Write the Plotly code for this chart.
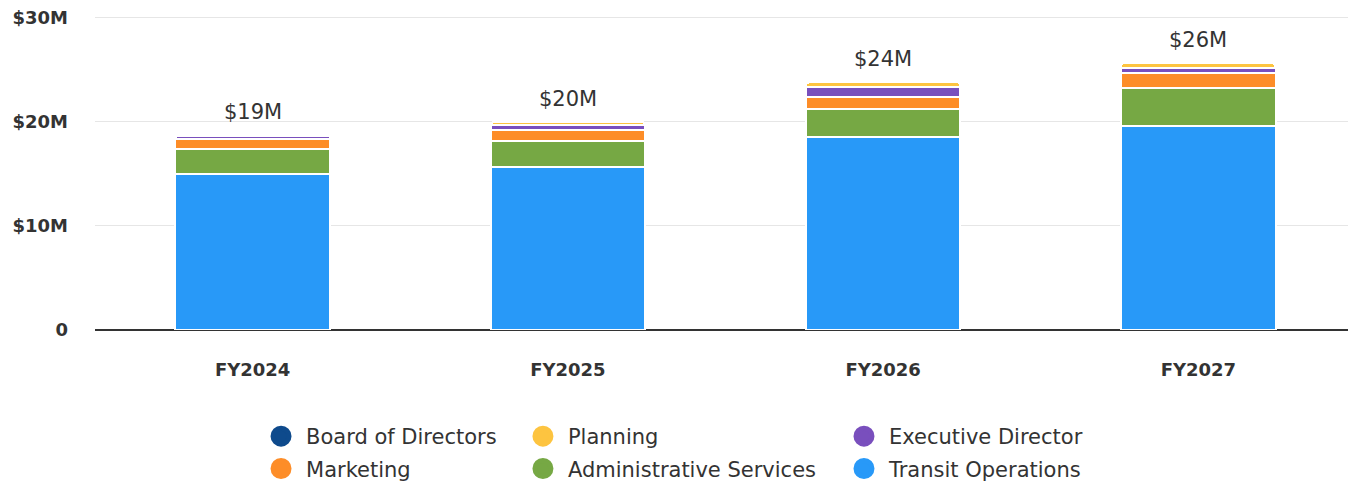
import plotly.graph_objects as go

years = ["FY2024", "FY2025", "FY2026", "FY2027"]
transit = [15.0, 15.65, 18.55, 19.6]
admin = [2.45, 2.5, 2.7, 3.65]
marketing = [0.87, 1.05, 1.2, 1.5]
executive = [0.38, 0.5, 0.95, 0.4]
planning = [0.05, 0.3, 0.4, 0.5]
board = [0.03, 0.03, 0.03, 0.03]
total_labels = ["$19M", "$20M", "$24M", "$26M"]
y_tickvals = [0, 10, 20, 30]
y_ticktext = ["0", "$10M", "$20M", "$30M"]

FONT = "DejaVu Sans"
TXT = "#333333"

series = [
    ("Transit Operations", transit, "#2899f8"),
    ("Administrative Services", admin, "#76a844"),
    ("Marketing", marketing, "#fd8d28"),
    ("Executive Director", executive, "#794fbd"),
    ("Planning", planning, "#fdc440"),
    ("Board of Directors", board, "#0e4a8c"),
]

fig = go.Figure()
for name, vals, col in series:
    fig.add_trace(go.Bar(
        x=years, y=vals, name=name, marker=dict(color=col, line=dict(color="white", width=2)),
        showlegend=False, hoverinfo="skip",
    ))

# legend entries (circle markers), one legend per column, top row first
legend_order = [
    ("Board of Directors", "#0e4a8c", "legend"),
    ("Marketing", "#fd8d28", "legend"),
    ("Planning", "#fdc440", "legend2"),
    ("Administrative Services", "#76a844", "legend2"),
    ("Executive Director", "#794fbd", "legend3"),
    ("Transit Operations", "#2899f8", "legend3"),
]
for name, col, lg in legend_order:
    fig.add_trace(go.Scatter(
        x=[None], y=[None], mode="markers", name=name, legend=lg, legendgroup=name,
        marker=dict(color=col, size=16, symbol="circle", line=dict(color=col, width=5)),
        showlegend=True,
    ))

totals = [a + b + c + d + e + f for a, b, c, d, e, f in zip(transit, admin, marketing, executive, planning, board)]
for yr, tot, lab in zip(years, totals, total_labels):
    fig.add_annotation(x=yr, y=tot, text=lab, showarrow=False, yanchor="bottom", yshift=9,
                       font=dict(family=FONT, size=21, color=TXT))

leg_common = dict(orientation="v", yanchor="top", xanchor="left", y=-0.2739, itemwidth=40,
                  font=dict(family=FONT, size=21, color=TXT), tracegroupgap=2,
                  bgcolor="rgba(0,0,0,0)")
# page body has an 8px default margin; figure size/margins compensate for it
fig.update_layout(
    width=1348, height=477,
    margin=dict(l=87, r=0, t=8, b=155, autoexpand=False),
    barmode="stack", bargap=0.51, barcornerradius=4,
    plot_bgcolor="white", paper_bgcolor="white",
    font=dict(family=FONT, color=TXT),
    legend=dict(x=0.1277, **leg_common),
    legend2=dict(x=0.3354, **leg_common),
    legend3=dict(x=0.590, **leg_common),
    xaxis=dict(type="category", showgrid=False, ticks="", ticklabelstandoff=27, automargin=False,
               tickfont=dict(family=FONT, size=18, color=TXT, weight="bold"),
               showline=False),
    yaxis=dict(range=[0, 30.19], tickvals=y_tickvals, ticktext=y_ticktext, automargin=False,
               showgrid=True, gridcolor="#e6e6e6", gridwidth=1,
               zeroline=True, zerolinecolor="#333333", zerolinewidth=1.5,
               ticklabelstandoff=26, ticklabeloverflow="allow",
               tickfont=dict(family=FONT, size=18, color=TXT, weight="bold")),
)

fig.write_html("out.html")
